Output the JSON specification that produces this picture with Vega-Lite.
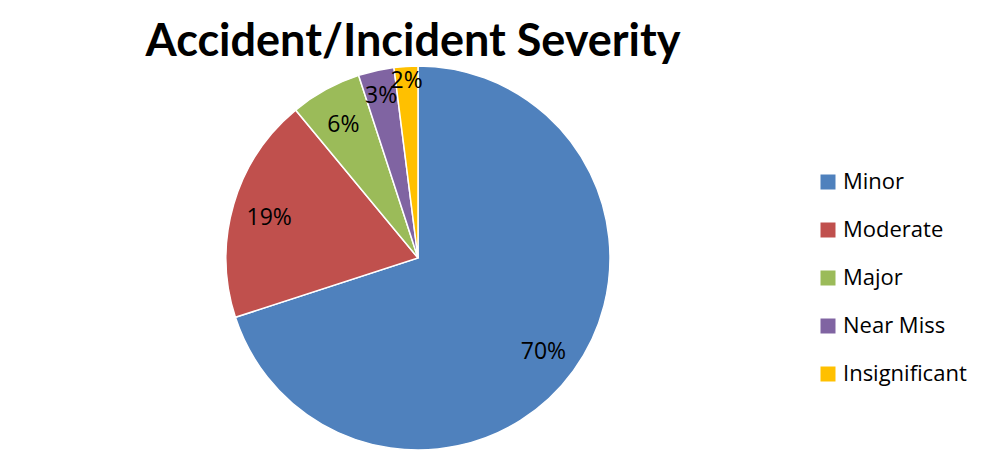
{
  "$schema": "https://vega.github.io/schema/vega-lite/v6.json",
  "width": 800,
  "height": 498,
  "autosize": "none",
  "padding": {"left": 18, "top": 9, "right": 164, "bottom": 0},
  "background": "white",
  "config": {"view": {"stroke": null}, "font": "Open Sans"},
  "title": {
    "text": "Accident/Incident Severity",
    "anchor": "middle",
    "frame": "group",
    "font": "Lato",
    "fontSize": 45,
    "fontWeight": "bold",
    "color": "black",
    "baseline": "alphabetic",
    "offset": 0,
    "dy": 92,
    "dx": -5
  },
  "data": {
    "values": [
      {"severity": "Minor", "share": 0.70, "rank": 1},
      {"severity": "Moderate", "share": 0.19, "rank": 2},
      {"severity": "Major", "share": 0.06, "rank": 3},
      {"severity": "Near Miss", "share": 0.03, "rank": 4},
      {"severity": "Insignificant", "share": 0.02, "rank": 5}
    ]
  },
  "encoding": {
    "theta": {"field": "share", "type": "quantitative", "stack": true},
    "order": {"field": "rank", "type": "quantitative"}
  },
  "layer": [
    {
      "mark": {"type": "arc", "outerRadius": 192, "stroke": "white", "strokeWidth": 1.5},
      "encoding": {
        "color": {
          "field": "severity",
          "type": "nominal",
          "scale": {
            "domain": ["Minor", "Moderate", "Major", "Near Miss", "Insignificant"],
            "range": ["#4F81BD", "#C0504D", "#9BBB59", "#8064A2", "#FFC000"]
          },
          "legend": {
            "orient": "none",
            "legendX": 799,
            "legendY": 162,
            "title": null,
            "symbolType": "square",
            "symbolSize": 225,
            "symbolStrokeWidth": 0,
            "labelFont": "Open Sans",
            "labelFontSize": 22,
            "labelColor": "black",
            "labelOffset": 4,
            "rowPadding": 26
          }
        }
      }
    },
    {
      "mark": {
        "type": "text",
        "font": "Open Sans",
        "fontSize": 23,
        "color": "black",
        "dy": 3,
        "radius": {"expr": "datum.share < 0.025 ? 180 : datum.share < 0.04 ? 169 : 155"}
      },
      "encoding": {
        "text": {"field": "share", "type": "quantitative", "format": ".0%"}
      }
    }
  ]
}
